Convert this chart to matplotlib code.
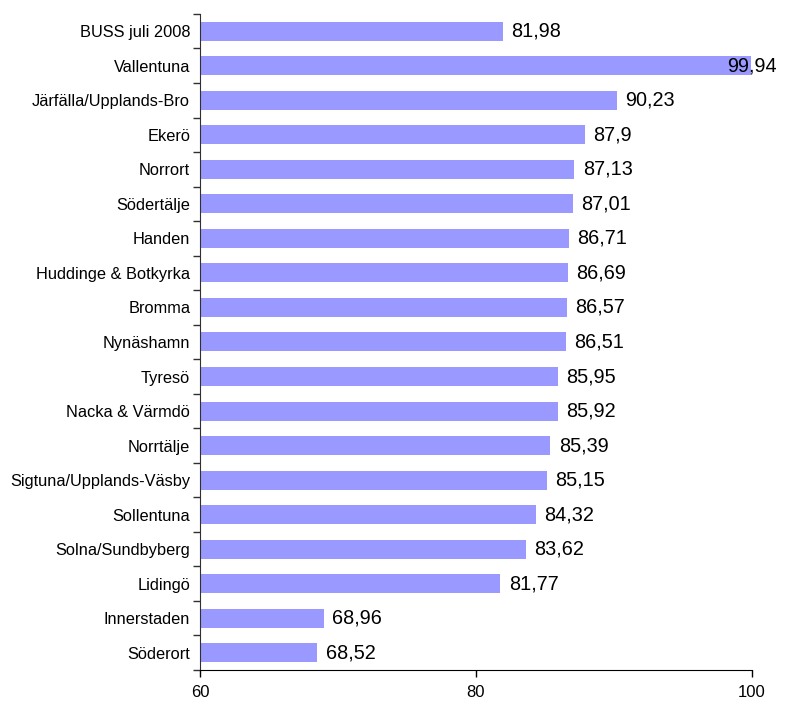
import numpy as np
import matplotlib
matplotlib.use('Agg')
import matplotlib.pyplot as plt

plt.rcParams['font.family'] = ['Liberation Sans', 'DejaVu Sans']

# Data (top to bottom as shown)
categories = ['BUSS juli 2008', 'Vallentuna', 'Järfälla/Upplands-Bro', 'Ekerö', 'Norrort',
              'Södertälje', 'Handen', 'Huddinge & Botkyrka', 'Bromma', 'Nynäshamn',
              'Tyresö', 'Nacka & Värmdö', 'Norrtälje', 'Sigtuna/Upplands-Väsby',
              'Sollentuna', 'Solna/Sundbyberg', 'Lidingö', 'Innerstaden', 'Söderort']
values = [81.98, 99.94, 90.23, 87.9, 87.13, 87.01, 86.71, 86.69, 86.57, 86.51,
          85.95, 85.92, 85.39, 85.15, 84.32, 83.62, 81.77, 68.96, 68.52]
x_ticks = [60, 80, 100]

fig = plt.figure(figsize=(7.87, 7.02), dpi=100)
ax = fig.add_axes([0.254, 0.0456, 0.7015, 0.9345])

y = np.arange(len(categories))
ax.barh(y, np.array(values) - 60, left=60, height=0.55, color='#9999FF', edgecolor='none')

ax.set_xlim(60, 100)
ax.set_ylim(len(categories) - 0.5, -0.5)
ax.set_xticks(x_ticks)
ax.set_xticklabels([str(t) for t in x_ticks], fontsize=12)

ax.set_yticks(y)
ax.set_yticklabels(categories, fontsize=11.8)
ax.tick_params(axis='y', which='major', length=0, pad=7)
ax.set_yticks(np.arange(-0.5, len(categories), 1.0), minor=True)
ax.tick_params(axis='y', which='minor', length=5, width=1, color='#303030', direction='out')
ax.tick_params(axis='x', length=5, width=1, direction='out', pad=6)

for s in ['top', 'right']:
    ax.spines[s].set_visible(False)
ax.spines['left'].set_color('#303030')
ax.spines['bottom'].set_color('black')

# value labels, comma as decimal separator
for i, v in enumerate(values):
    txt = ('%g' % v).replace('.', ',')
    off = 6 if v < 97 else -17
    ax.annotate(txt, xy=(v, i), xytext=(off, 0), textcoords='offset points',
                va='center', ha='left', fontsize=14.3, annotation_clip=False)

fig.savefig('out.png', dpi=100)
